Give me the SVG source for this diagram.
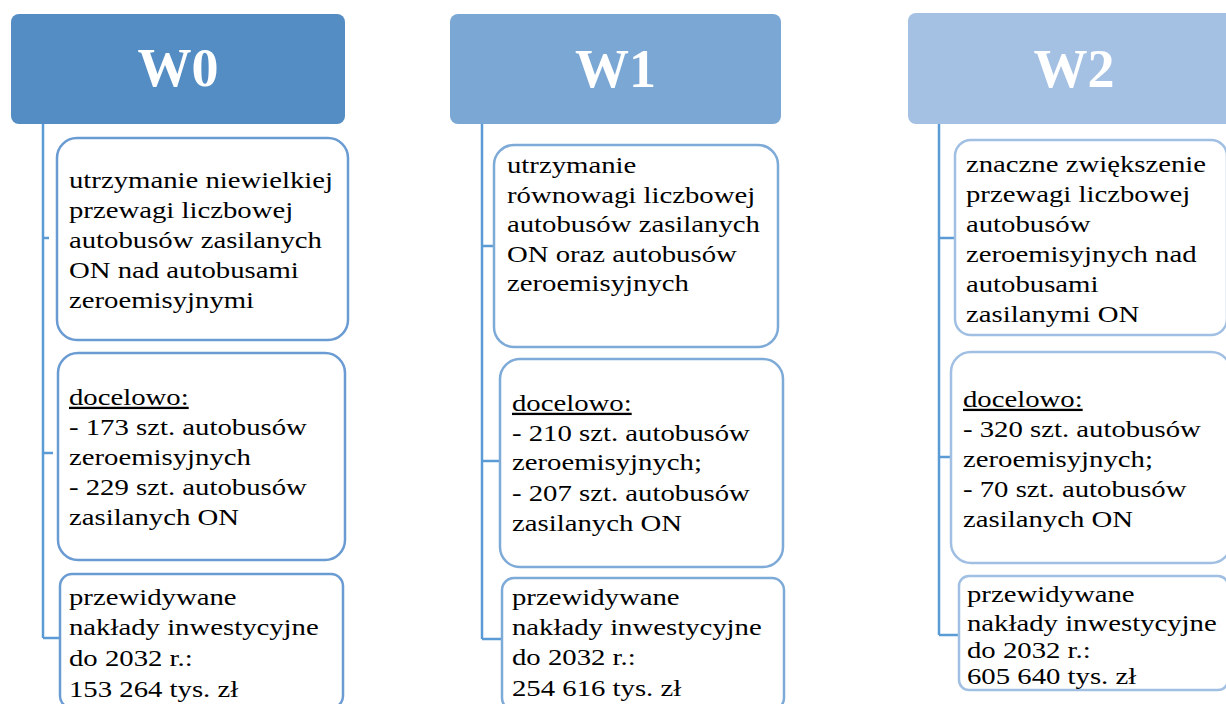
<svg xmlns="http://www.w3.org/2000/svg" width="1226" height="704" viewBox="0 0 1226 704">
<style>
.hdr{stroke:none}
.h0{fill:#548DC4}
.h1{fill:#7BA7D4}
.h2{fill:#A4C1E4}
.hl{font-family:"Liberation Serif","Times New Roman",serif;font-weight:bold;font-size:54px;fill:#fff;text-anchor:middle}
.box{fill:#fff;stroke-width:2.5}
.b0{stroke:#6A9BD2}
.b1{stroke:#7EAAD8}
.b2{stroke:#A0BFE3}
.t{font-family:"Liberation Serif","Times New Roman",serif;font-size:23px;fill:#000}
.u{text-decoration:underline}
.conn{fill:none;stroke:#5B9BD5;stroke-width:2.5}
</style>
<rect width="1226" height="704" fill="#fff"/>
<g id="connectors">
<path class="conn" d="M43,124 V638 M43,238 H49 M43,453 H53 M43,638 H60"/>
<path class="conn" d="M482,124 V639 M482,246 H494 M482,461 H500 M482,639 H502"/>
<path class="conn" d="M939,124 V635 M939,238 H955 M939,457 H951 M939,635 H959"/>
</g>
<g id="W0">
<rect class="hdr h0" x="11" y="14" width="334" height="110" rx="8"/>
<text class="hl" x="178" y="86">W0</text>
</g>
<g id="W0-cel">
<rect class="box b0" x="57" y="138" width="291" height="202" rx="20"/>
<text class="t" transform="matrix(1.25 0 0 1 69 0)"><tspan x="0" y="188">utrzymanie niewielkiej</tspan><tspan x="0" y="218">przewagi liczbowej</tspan><tspan x="0" y="248">autobusów zasilanych</tspan><tspan x="0" y="278">ON nad autobusami</tspan><tspan x="0" y="308">zeroemisyjnymi</tspan></text>
</g>
<g id="W0-docelowo">
<rect class="box b0" x="58" y="353" width="287" height="207" rx="20"/>
<text class="t" transform="matrix(1.25 0 0 1 69 0)"><tspan x="0" y="405" class="u">docelowo:</tspan><tspan x="0" y="435">- 173 szt. autobusów</tspan><tspan x="0" y="465">zeroemisyjnych</tspan><tspan x="0" y="495">- 229 szt. autobusów</tspan><tspan x="0" y="525">zasilanych ON</tspan></text>
</g>
<g id="W0-naklady">
<rect class="box b0" x="60" y="574" width="283" height="134" rx="12"/>
<text class="t" transform="matrix(1.25 0 0 1 69 0)"><tspan x="0" y="605">przewidywane</tspan><tspan x="0" y="635">nakłady inwestycyjne</tspan><tspan x="0" y="666">do 2032 r.:</tspan><tspan x="0" y="697">153 264 tys. zł</tspan></text>
</g>
<g id="W1">
<rect class="hdr h1" x="450" y="14" width="331" height="110" rx="8"/>
<text class="hl" x="615.5" y="87">W1</text>
</g>
<g id="W1-cel">
<rect class="box b1" x="494" y="145" width="284" height="202" rx="20"/>
<text class="t" transform="matrix(1.25 0 0 1 507 0)"><tspan x="0" y="173">utrzymanie</tspan><tspan x="0" y="203">równowagi liczbowej</tspan><tspan x="0" y="232">autobusów zasilanych</tspan><tspan x="0" y="262">ON oraz autobusów</tspan><tspan x="0" y="291">zeroemisyjnych</tspan></text>
</g>
<g id="W1-docelowo">
<rect class="box b1" x="500" y="359" width="283" height="208" rx="20"/>
<text class="t" transform="matrix(1.25 0 0 1 512 0)"><tspan x="0" y="411" class="u">docelowo:</tspan><tspan x="0" y="441">- 210 szt. autobusów</tspan><tspan x="0" y="470">zeroemisyjnych;</tspan><tspan x="0" y="501">- 207 szt. autobusów</tspan><tspan x="0" y="531">zasilanych ON</tspan></text>
</g>
<g id="W1-naklady">
<rect class="box b1" x="502" y="578" width="282" height="132" rx="12"/>
<text class="t" transform="matrix(1.25 0 0 1 512 0)"><tspan x="0" y="605">przewidywane</tspan><tspan x="0" y="635">nakłady inwestycyjne</tspan><tspan x="0" y="665">do 2032 r.:</tspan><tspan x="0" y="696">254 616 tys. zł</tspan></text>
</g>
<g id="W2">
<rect class="hdr h2" x="908" y="13" width="333" height="111" rx="8"/>
<text class="hl" x="1074" y="87">W2</text>
</g>
<g id="W2-cel">
<rect class="box b2" x="955" y="140" width="272" height="195" rx="16"/>
<text class="t" transform="matrix(1.25 0 0 1 966 0)"><tspan x="0" y="172">znaczne zwiększenie</tspan><tspan x="0" y="202">przewagi liczbowej</tspan><tspan x="0" y="232">autobusów</tspan><tspan x="0" y="262">zeroemisyjnych nad</tspan><tspan x="0" y="292">autobusami</tspan><tspan x="0" y="322">zasilanymi ON</tspan></text>
</g>
<g id="W2-docelowo">
<rect class="box b2" x="951" y="352" width="280" height="211" rx="20"/>
<text class="t" transform="matrix(1.25 0 0 1 963 0)"><tspan x="0" y="407" class="u">docelowo:</tspan><tspan x="0" y="437">- 320 szt. autobusów</tspan><tspan x="0" y="467">zeroemisyjnych;</tspan><tspan x="0" y="497">- 70 szt. autobusów</tspan><tspan x="0" y="527">zasilanych ON</tspan></text>
</g>
<g id="W2-naklady">
<rect class="box b2" x="959" y="576" width="269" height="114" rx="10"/>
<text class="t" transform="matrix(1.25 0 0 1 967 0)"><tspan x="0" y="602">przewidywane</tspan><tspan x="0" y="631">nakłady inwestycyjne</tspan><tspan x="0" y="658">do 2032 r.:</tspan><tspan x="0" y="684">605 640 tys. zł</tspan></text>
</g>
</svg>
